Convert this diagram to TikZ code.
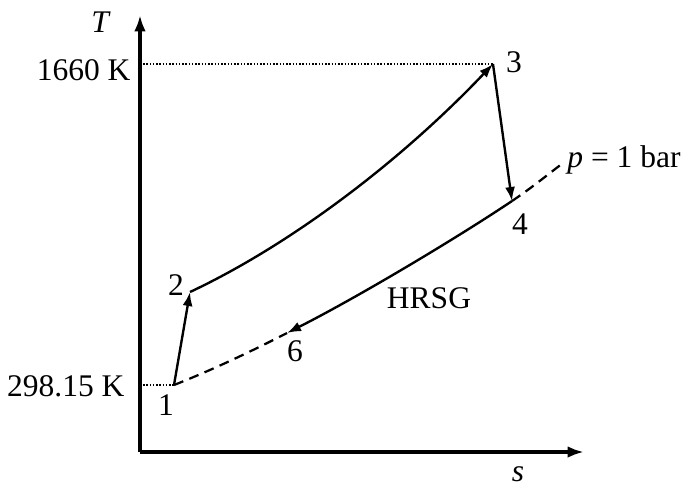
\documentclass[tikz,border=0pt]{standalone}
\usepackage{fontspec}
\setmainfont{Liberation Serif}
\usetikzlibrary{arrows.meta}

\begin{document}
\begin{tikzpicture}[x=0.4pt,y=-0.4pt,>={Latex[length=5.6pt,width=4pt]},
 axis/.style={line width=1.3pt,->,>={Latex[length=6.5pt,width=4.6pt]}},
 proc/.style={line width=0.95pt,->},
 isobar/.style={line width=0.9pt,dash pattern=on 4pt off 2.6pt},
 guide/.style={line width=0.7pt,dash pattern=on 0.6pt off 0.7pt},
 lbl/.style={font=\fontsize{12.6}{15}\selectfont,inner sep=0pt}]
\useasboundingbox (0,0) rectangle (683,489);
% axes
\coordinate (O) at (140,452);
\coordinate (Ttip) at (140,15);
\coordinate (stip) at (584,452);
\draw[axis] (O) -- (Ttip);
\draw[axis] (O) -- (stip);
\node[lbl] (Tlab) at (101,22) {\textit{T}};
\node[lbl] (slab) at (518,474) {\textit{s}};
% state points
\coordinate (p1) at (174,385);
\coordinate (p2) at (190,292);
\coordinate (p3) at (493,64);
\coordinate (p4) at (512,201);
\coordinate (p6) at (287,333);
\coordinate (pend) at (563,163);
\coordinate (Thi) at (140,64);
\coordinate (Tlo) at (140,385);
% temperature levels
\draw[guide] (Thi) -- (p3);
\draw[guide] (Tlo) -- (p1);
\node[lbl,anchor=east] (hilab) at (131,70) {1660 K};
\node[lbl,anchor=east] (lolab) at (125,386) {298.15 K};
% isobar p = 1 bar
\draw[isobar] (p1) .. controls (212,370) and (250,352) .. (p6);
\draw[isobar] (p4) .. controls (530,189) and (546,176) .. (pend);
\node[lbl,anchor=west] (plab) at (567,160) {\textit{p} = 1 bar};
% cycle
\draw[proc] (p1) -- (p2);
\draw[proc] (p2) .. controls (290,245) and (400,162) .. (p3);
\draw[proc] (p3) -- (p4);
\draw[proc] (p4) .. controls (460,236) and (360,296) .. (p6);
\node[lbl] (hrsg) at (429,298) {HRSG};
% point labels
\node[lbl] (n1) at (166,405) {1};
\node[lbl] (n2) at (176,285) {2};
\node[lbl] (n3) at (514,62) {3};
\node[lbl] (n4) at (520,224) {4};
\node[lbl] (n6) at (295,351) {6};
\end{tikzpicture}
\end{document}
